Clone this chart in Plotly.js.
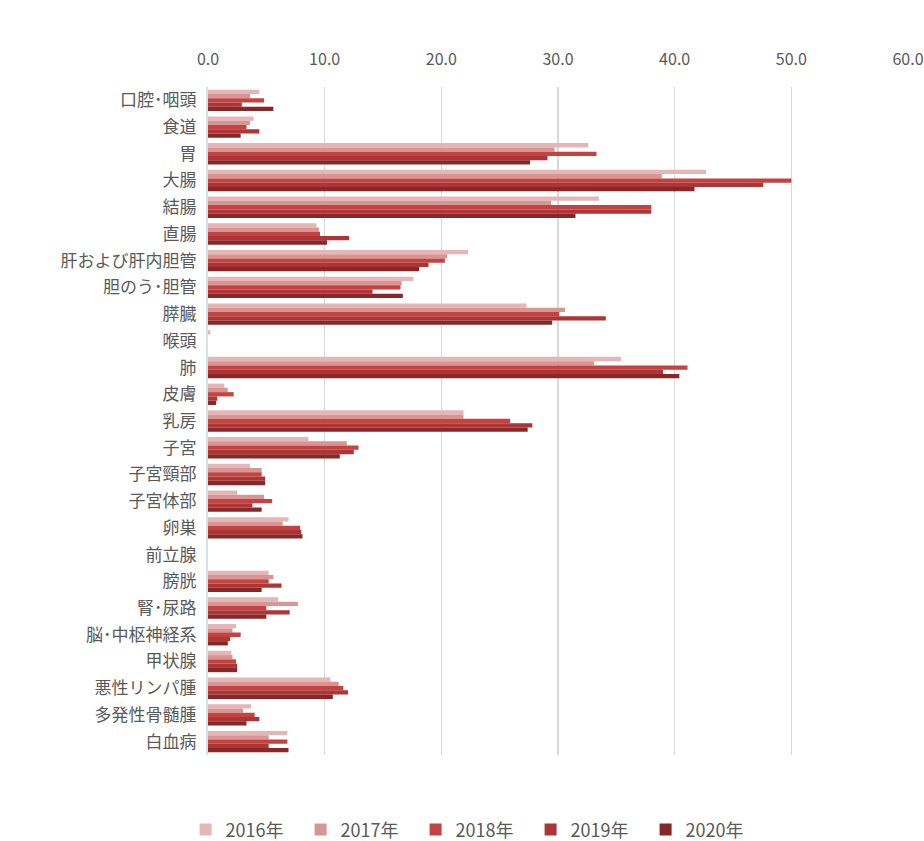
<!DOCTYPE html>
<html>
<head>
<meta charset="utf-8">
<script src="https://cdn.plot.ly/plotly-3.0.1.min.js"></script>
<style>html,body{margin:0;padding:0;background:#fff;}#chart{width:924px;height:841px;}</style>
</head>
<body>
<div id="chart"></div>
<script>
const categories = ["口腔･咽頭","食道","胃","大腸","結腸","直腸","肝および肝内胆管","胆のう･胆管","膵臓","喉頭","肺","皮膚","乳房","子宮","子宮頸部","子宮体部","卵巣","前立腺","膀胱","腎･尿路","脳･中枢神経系","甲状腺","悪性リンパ腫","多発性骨髄腫","白血病"];
const years = ["2016年","2017年","2018年","2019年","2020年"];
const v2016 = [4.4,3.9,32.6,42.7,33.5,9.3,22.3,17.6,27.3,0.2,35.4,1.4,21.9,8.6,3.6,2.5,6.9,0,5.2,6.0,2.4,2.0,10.5,3.7,6.8];
const v2017 = [3.6,3.6,29.7,38.9,29.4,9.5,20.5,16.6,30.6,0,33.1,1.7,21.9,11.9,4.6,4.8,6.4,0,5.6,7.7,2.1,2.1,11.2,3.0,5.2];
const v2018 = [4.8,3.3,33.3,50.0,38.0,9.6,20.3,16.5,30.1,0,41.1,2.2,25.9,12.9,4.6,5.5,7.9,0,5.2,5.0,2.8,2.4,11.6,4.0,6.8];
const v2019 = [2.9,4.4,29.1,47.6,38.0,12.1,18.9,14.1,34.1,0,39.0,0.8,27.8,12.5,4.9,3.8,8.0,0,6.3,7.0,1.9,2.5,12.0,4.4,5.2];
const v2020 = [5.6,2.8,27.6,41.7,31.5,10.2,18.1,16.7,29.5,0,40.4,0.7,27.4,11.3,4.9,4.6,8.1,0,4.6,5.0,1.7,2.5,10.7,3.3,6.9];
const series = [v2016,v2017,v2018,v2019,v2020];
const colors = ["#e4b6b5","#d99593","#c4423f","#ad3535","#872727"];

const traces = series.map((vals,i)=>({
  type:"bar", orientation:"h", name:years[i],
  y:categories, x:vals,
  marker:{color:colors[i]},
  hoverinfo:"x+y+name"
}));

const font = "'Noto Sans CJK JP','Noto Sans',sans-serif";
const layout = {
  width:924, height:841,
  margin:{l:208, r:16, t:87, b:86, autoexpand:false},
  paper_bgcolor:"#fff", plot_bgcolor:"#fff",
  barmode:"group", bargap:0.2, bargroupgap:0,
  font:{family:font, color:"#595959"},
  xaxis:{
    side:"top", range:[0,60], dtick:10, tick0:0, tickformat:".1f",
    showgrid:true, gridcolor:"#d9d9d9", gridwidth:1.5,
    zeroline:false, showline:false, ticks:"", ticklabelstandoff:18,
    tickfont:{size:16, color:"#595959"}, automargin:false
  },
  yaxis:{
    type:"category", autorange:"reversed",
    showline:true, linecolor:"#cfe3ea", linewidth:2,
    ticks:"", showgrid:false, ticklabelstandoff:6,
    tickfont:{size:17, color:"#595959"}, automargin:false
  },
  showlegend:true,
  legend:{orientation:"h", x:-0.032, xanchor:"left", y:-0.112, yanchor:"middle",
    entrywidth:70, entrywidthmode:"pixels",
    font:{size:18, color:"#595959"}, traceorder:"normal", itemwidth:30}
};
Plotly.newPlot("chart", traces, layout, {displayModeBar:false, staticPlot:true});
</script>
</body>
</html>
